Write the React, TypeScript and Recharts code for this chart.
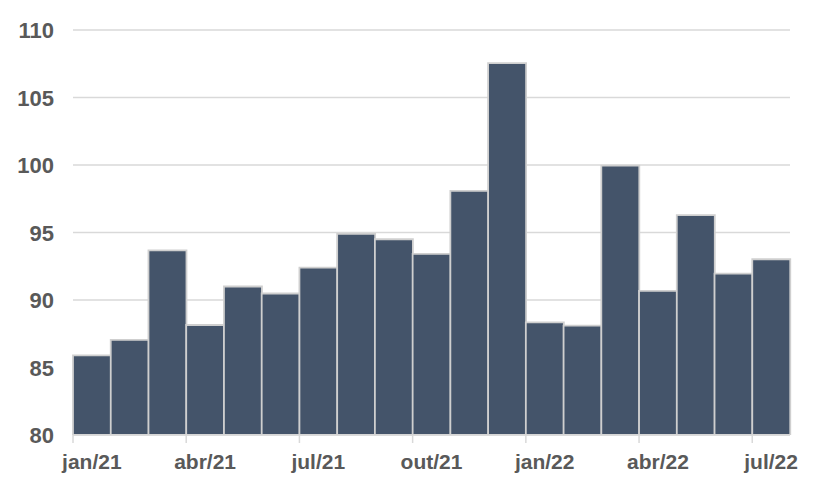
import React from "react";
import { BarChart, Bar, XAxis, YAxis, CartesianGrid } from "recharts";

const months = [
  "jan/21", "fev/21", "mar/21", "abr/21", "mai/21", "jun/21", "jul/21", "ago/21", "set/21",
  "out/21", "nov/21", "dez/21", "jan/22", "fev/22", "mar/22", "abr/22", "mai/22", "jun/22", "jul/22",
];
const values = [
  85.9, 87.05, 93.67, 88.15, 91.0, 90.48, 92.4, 94.9, 94.5,
  93.42, 98.08, 107.55, 88.35, 88.1, 99.95, 90.68, 96.28, 91.96, 93.02,
];
const yTicks = [80, 85, 90, 95, 100, 105, 110];

const data = months.map((m, i) => ({ month: m, value: values[i] }));

const W = 816;
const H = 488;
const M = { top: 30, right: 26, left: 0, bottom: 0 };
const Y_W = 73;
const TEXT = "#595959";
const GRID = "#D9D9D9";
const FONT = "'Liberation Sans', Arial, sans-serif";

const XTick = (props: any) => {
  const { x, y, payload } = props;
  const band = (W - M.left - M.right - Y_W) / months.length;
  const half = payload && payload.offset ? payload.offset : band / 2;
  return (
    <g>
      <line x1={x - half} x2={x - half} y1={y} y2={y + 8} stroke={GRID} strokeWidth={1.5} />
      <text x={x} y={y + 34} textAnchor="middle" fill={TEXT} fontSize={21} fontWeight="bold" fontFamily={FONT}>
        {payload.value}
      </text>
    </g>
  );
};

const YTick = (props: any) => {
  const { x, y, payload } = props;
  return (
    <text x={x - 19} y={y} dy={8} textAnchor="end" fill={TEXT} fontSize={22} fontWeight="bold" fontFamily={FONT}>
      {payload.value}
    </text>
  );
};

export default function App() {
  return (
    <div style={{ position: "absolute", left: 0, top: 0, width: W, height: H, background: "#fff" }}>
      <BarChart width={W} height={H} data={data} margin={M} barCategoryGap={0} barGap={0}>
        <CartesianGrid vertical={false} stroke={GRID} strokeWidth={1.5} />
        <XAxis
          dataKey="month"
          interval={2}
          height={53}
          tickLine={false}
          tickSize={0}
          tickMargin={0}
          axisLine={{ stroke: GRID, strokeWidth: 1.5 }}
          tick={<XTick />}
        />
        <YAxis
          domain={[80, 110]}
          ticks={yTicks}
          width={Y_W}
          axisLine={false}
          tickLine={false}
          tickSize={0}
          tickMargin={0}
          tick={<YTick />}
          allowDataOverflow
        />
        <Bar dataKey="value" fill="#44546A" stroke="#CFCFCF" strokeWidth={1.8} isAnimationActive={false} />
      </BarChart>
    </div>
  );
}
